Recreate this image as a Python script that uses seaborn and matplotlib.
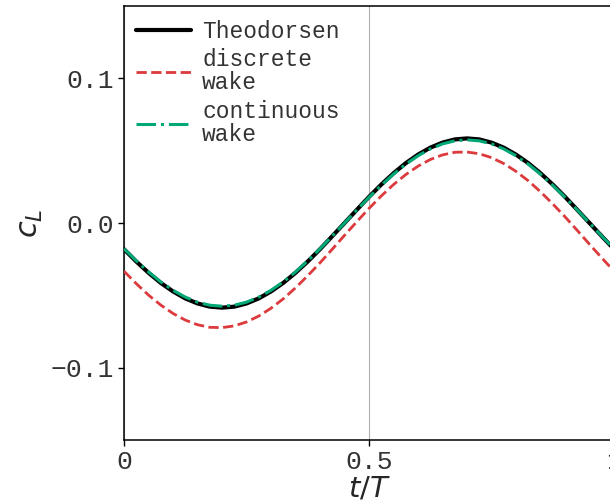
import numpy as np
import pandas as pd
import seaborn as sns
import matplotlib
matplotlib.use("Agg")
import matplotlib.pyplot as plt

# Phase within one period
t_over_T = [0.000, 0.025, 0.050, 0.075, 0.100, 0.125, 0.150, 0.175, 0.200, 0.225,
            0.250, 0.275, 0.300, 0.325, 0.350, 0.375, 0.400, 0.425, 0.450, 0.475,
            0.500, 0.525, 0.550, 0.575, 0.600, 0.625, 0.650, 0.675, 0.700, 0.725,
            0.750, 0.775, 0.800, 0.825, 0.850, 0.875, 0.900, 0.925, 0.950, 0.975,
            1.000]

# Lift coefficient, Theodorsen reference solution
cl_theodorsen = [-0.0181, -0.0266, -0.0344, -0.0414, -0.0473, -0.0521, -0.0556, -0.0578,
                 -0.0585, -0.0578, -0.0556, -0.0521, -0.0473, -0.0414, -0.0344, -0.0266,
                 -0.0181, -0.0091, 0.0000, 0.0091, 0.0181, 0.0266, 0.0344, 0.0414,
                 0.0473, 0.0521, 0.0556, 0.0578, 0.0585, 0.0578, 0.0556, 0.0521,
                 0.0473, 0.0414, 0.0344, 0.0266, 0.0181, 0.0091, 0.0000, -0.0091,
                 -0.0181]

# Lift coefficient, discrete-vortex wake model
cl_discrete = [-0.0333, -0.0419, -0.0498, -0.0567, -0.0625, -0.0671, -0.0703, -0.0721,
               -0.0723, -0.0711, -0.0684, -0.0643, -0.0589, -0.0524, -0.0448, -0.0364,
               -0.0275, -0.0181, -0.0085, 0.0009, 0.0101, 0.0187, 0.0266, 0.0335,
               0.0393, 0.0439, 0.0471, 0.0489, 0.0491, 0.0479, 0.0452, 0.0411,
               0.0357, 0.0292, 0.0216, 0.0132, 0.0043, -0.0051, -0.0147, -0.0241,
               -0.0333]

# Lift coefficient, continuous wake model
cl_continuous = [-0.0178, -0.0261, -0.0338, -0.0407, -0.0465, -0.0512, -0.0547, -0.0568,
                 -0.0575, -0.0568, -0.0547, -0.0512, -0.0465, -0.0407, -0.0338, -0.0261,
                 -0.0178, -0.0090, 0.0000, 0.0090, 0.0178, 0.0261, 0.0338, 0.0407,
                 0.0465, 0.0512, 0.0547, 0.0568, 0.0575, 0.0568, 0.0547, 0.0512,
                 0.0465, 0.0407, 0.0338, 0.0261, 0.0178, 0.0090, 0.0000, -0.0090,
                 -0.0178]

series_labels = ["Theodorsen", "discrete\nwake", "continuous\nwake"]
x_ticks = [0, 0.5, 1]
x_tick_labels = ["0", "0.5", "1"]
y_ticks = [-0.1, 0.0, 0.1]
y_tick_labels = ["\u22120.1", "0.0", "0.1"]

sns.set_theme(style="ticks")
plt.rcParams["font.family"] = ["Liberation Mono", "DejaVu Sans Mono"]
plt.rcParams["mathtext.fontset"] = "dejavusans"

fig = plt.figure(figsize=(6.10, 5.03), dpi=100)
ax = fig.add_axes([0.2033, 0.1252, 0.8033, 0.8628])

ax.grid(axis="x", color="#b0b0b0", linewidth=0.8)
ax.grid(axis="y", visible=False)

sns.lineplot(x=t_over_T, y=cl_theodorsen, ax=ax, color="black", linewidth=3.0,
             linestyle="-", label=series_labels[0], zorder=3)
sns.lineplot(x=t_over_T, y=cl_discrete, ax=ax, color="#dc3a3d", linewidth=2.0,
             linestyle="--", label=series_labels[1], zorder=3)
sns.lineplot(x=t_over_T, y=cl_continuous, ax=ax, color="#00a878", linewidth=2.2,
             linestyle="-.", label=series_labels[2], zorder=4)

ax.set_xlim(0, 1)
ax.set_ylim(-0.15, 0.15)
ax.set_xticks(x_ticks)
ax.set_xticklabels(x_tick_labels)
ax.set_yticks(y_ticks)
ax.set_yticklabels(y_tick_labels)
ax.tick_params(axis="both", labelsize=19, length=4, width=1.0, color="black",
               labelcolor="#333333", direction="out")

for side in ["left", "bottom", "top", "right"]:
    ax.spines[side].set_color("black")
    ax.spines[side].set_linewidth(1.1)

ax.set_xlabel("$t/T$", fontsize=21, labelpad=0)
ax.set_ylabel("$c_L$", fontsize=22, labelpad=4)

leg = ax.legend(loc="upper left", bbox_to_anchor=(0.005, 0.99), frameon=False,
                fontsize=16.5, handlelength=2.4, handletextpad=0.5,
                borderaxespad=0.0, labelspacing=0.25)
for txt in leg.get_texts():
    txt.set_linespacing(1.0)
    txt.set_color("#333333")

fig.savefig("out.png", dpi=100)
